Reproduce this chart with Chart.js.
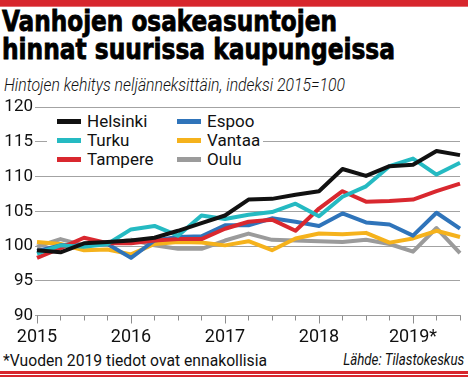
<!DOCTYPE html>
<html>
<head>
<meta charset="utf-8">
<script src="https://cdn.jsdelivr.net/npm/chart.js@4"></script>
<style>
  body { margin: 0; background: #fff; }
  .page { position: relative; width: 468px; height: 377px; overflow: hidden; background: #fff; font-family: "Roboto", "Liberation Sans", sans-serif; color: #111; }
  .topbar { position: absolute; left: 0; top: 0; width: 468px; height: 6px; background: #d7262d; border-bottom: 1px solid #e56a6e; }
  .fit { position: absolute; white-space: nowrap; transform-origin: 0 0; }
  .title { left: 2px; font-family: "Liberation Sans Narrow", "DejaVu Sans Condensed", "Liberation Sans", sans-serif; font-stretch: condensed; font-weight: bold; font-size: 29px; line-height: 29px; color: #000; -webkit-text-stroke: 0.8px #000; }
  .subtitle { left: 4px; top: 75px; font-size: 18px; line-height: 20px; font-style: italic; font-weight: 300; }
  .note { left: 3px; top: 351px; font-size: 17px; line-height: 18px; }
  .source { top: 351px; font-size: 16px; line-height: 18px; font-style: italic; transform-origin: 100% 0; }
  .bottombar1 { position: absolute; left: 0; top: 371px; width: 468px; height: 3px; background: #d7262d; }
  .bottombar2 { position: absolute; left: 0; top: 375px; width: 468px; height: 2px; background: #d7262d; }
  .chart-box { position: absolute; left: 0; top: 95px; width: 468px; height: 255px; }
  .legend { position: absolute; left: 47px; top: 109px; width: 216px; height: 61px; background: #fff; }
  .leg-item { position: absolute; height: 19px; font-size: 17px; line-height: 19px; white-space: nowrap; }
  .leg-line { position: absolute; left: 0; top: 7px; width: 24px; height: 5px; }
  .leg-text { position: absolute; left: 30px; top: 0; }
</style>
</head>
<body>
<div class="page">
  <div class="topbar"></div>
  <div class="fit title" style="top:7px" data-w="335">Vanhojen osakeasuntojen</div>
  <div class="fit title" style="top:35px" data-w="393">hinnat suurissa kaupungeissa</div>
  <div class="fit subtitle" data-w="341">Hintojen kehitys neljänneksittäin, indeksi 2015=100</div>

  <div class="chart-box"><canvas id="chartHinnat"></canvas></div>
  <div class="legend" id="legend"></div>

  <div class="fit note" data-w="264">*Vuoden 2019 tiedot ovat ennakollisia</div>
  <div class="fit source" style="right:4px" data-w="121">Lähde: Tilastokeskus</div>
  <div class="bottombar1"></div>
  <div class="bottombar2"></div>
</div>

<script>
// Quarters 2015 Q1 .. 2019 Q3, index 2015 = 100
var quarters = ['2015 Q1', '2015 Q2', '2015 Q3', '2015 Q4',
                '2016 Q1', '2016 Q2', '2016 Q3', '2016 Q4',
                '2017 Q1', '2017 Q2', '2017 Q3', '2017 Q4',
                '2018 Q1', '2018 Q2', '2018 Q3', '2018 Q4',
                '2019 Q1', '2019 Q2', '2019 Q3'];
var yearLabels = ['2015', '2016', '2017', '2018', '2019*'];

var helsinki = [99.4, 99.1, 100.4, 100.6, 100.8, 101.2, 102.2, 103.3, 104.4, 106.7, 106.8, 107.4, 107.9, 111.1, 110.1, 111.5, 111.7, 113.7, 113.1];
var turku    = [98.9, 100.1, 99.9, 100.3, 102.4, 102.9, 101.5, 104.4, 103.9, 104.5, 104.9, 106.1, 104.3, 107.1, 108.6, 111.5, 112.6, 110.3, 112.0];
var tampere  = [98.3, 99.7, 101.2, 100.4, 100.4, 100.8, 101.0, 101.0, 102.5, 103.5, 103.8, 102.2, 105.4, 107.9, 106.4, 106.5, 106.7, 107.9, 109.0];
var espoo    = [99.3, 100.1, 100.1, 100.3, 98.3, 100.8, 101.3, 101.4, 103.0, 103.0, 104.0, 103.5, 102.9, 104.7, 103.4, 103.1, 101.5, 104.8, 102.5];
var vantaa   = [100.6, 100.3, 99.4, 99.5, 98.8, 100.3, 100.6, 100.5, 100.1, 100.7, 99.4, 101.1, 101.8, 101.7, 101.9, 100.5, 101.1, 102.2, 101.3];
var oulu     = [99.9, 101.0, 100.1, 100.4, 100.9, 100.1, 99.6, 99.6, 100.8, 101.8, 100.9, 100.8, 100.7, 100.6, 100.9, 100.3, 99.2, 102.6, 99.0];

var cityNames  = ['Helsinki', 'Turku', 'Tampere', 'Espoo', 'Vantaa', 'Oulu'];
var cityData   = [helsinki, turku, tampere, espoo, vantaa, oulu];
var cityColors = ['#111111', '#25bac2', '#d9282f', '#2f74ba', '#f5b21c', '#9b9b9b'];

var yMin = 90, yMax = 120, yStep = 5;

// Legend: two columns, three rows
var legend = document.getElementById('legend');
cityNames.forEach(function (name, i) {
  var col = Math.floor(i / 3), row = i % 3;
  var item = document.createElement('div');
  item.className = 'leg-item';
  item.style.left = (10 + col * 120) + 'px';
  item.style.top = (3 + row * 19.2) + 'px';
  item.innerHTML = '<div class="leg-line" style="background:' + cityColors[i] + '"></div>' +
                   '<div class="leg-text">' + name + '</div>';
  legend.appendChild(item);
});

// Squeeze condensed texts to the reference width
document.querySelectorAll('.fit').forEach(function (el) {
  var target = parseFloat(el.getAttribute('data-w'));
  var w = el.getBoundingClientRect().width;
  if (w > 0) el.style.transform = 'scaleX(' + (target / w) + ')';
});

// Longer tick marks at the start of each year
var yearTicks = {
  id: 'yearTicks',
  afterDraw: function (chart) {
    var x = chart.scales.x, ctx = chart.ctx;
    ctx.save();
    ctx.strokeStyle = '#8c8c8c';
    ctx.lineWidth = 1;
    for (var i = 0; i < quarters.length; i += 4) {
      var px = Math.round(x.getPixelForTick(i)) + 0.5;
      ctx.beginPath();
      ctx.moveTo(px, x.top);
      ctx.lineTo(px, x.top + 8);
      ctx.stroke();
    }
    ctx.restore();
  }
};

new Chart(document.getElementById('chartHinnat'), {
  type: 'line',
  data: {
    labels: quarters,
    datasets: cityNames.map(function (name, i) {
      return {
        label: name,
        data: cityData[i],
        borderColor: cityColors[i],
        backgroundColor: cityColors[i],
        borderWidth: 4,
        pointRadius: 0,
        tension: 0,
        borderJoinStyle: 'round',
        fill: false
      };
    })
  },
  options: {
    responsive: true,
    maintainAspectRatio: false,
    animation: false,
    layout: { padding: { left: 0, right: 8, top: 10, bottom: 0 } },
    plugins: { legend: { display: false }, tooltip: { enabled: false } },
    scales: {
      x: {
        offset: false,
        grid: { drawOnChartArea: false, drawTicks: true, tickLength: 5, tickColor: '#8c8c8c' },
        border: { display: true, color: '#9a9a9a' },
        ticks: {
          autoSkip: false,
          maxRotation: 0,
          padding: 6,
          color: '#111',
          font: { family: 'Roboto', size: 18 },
          callback: function (val, index) {
            return index % 4 === 0 ? yearLabels[index / 4] : '';
          }
        },
        afterFit: function (scale) { scale.height = 34.5; }
      },
      y: {
        min: yMin,
        max: yMax,
        grid: { color: '#a3a3a3', lineWidth: 1, drawTicks: true, tickLength: 2 },
        border: { display: false },
        ticks: {
          stepSize: yStep,
          padding: 2,
          color: '#111',
          font: { family: 'Roboto', size: 17 }
        },
        afterFit: function (scale) { scale.width = 37; }
      }
    }
  },
  plugins: [yearTicks]
});
</script>
</body>
</html>
